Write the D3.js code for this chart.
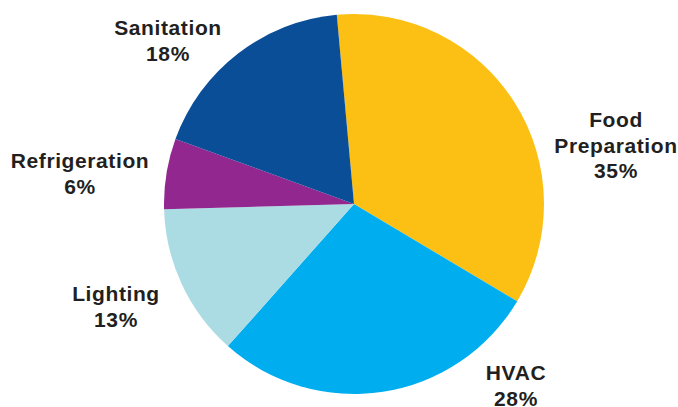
<!DOCTYPE html>
<html>
<head>
<meta charset="utf-8">
<script src="https://cdn.jsdelivr.net/npm/d3@7/dist/d3.min.js"></script>
<style>
  body { margin: 0; background: #fff; }
  svg { display: block; }
  .lbl { font-family: "Liberation Sans", Arial, sans-serif; font-weight: bold; font-size: 21px; letter-spacing: 0.6px; fill: #231f20; }
</style>
</head>
<body>
<div id="chart"></div>
<script>
// Data
const categories = ["Food Preparation", "HVAC", "Lighting", "Refrigeration", "Sanitation"];
const shares = [35, 28, 13, 6, 18];
const colors = ["#fcc015", "#00aeef", "#acdce3", "#92278f", "#0b4e98"];
// label text lines per slice
const labelLines = [["Food", "Preparation"], ["HVAC"], ["Lighting"], ["Refrigeration"], ["Sanitation"]];

// Layout
const W = 678, H = 407;
const cx = 354, cy = 204, radius = 190;
const startAngle = -5.2 * Math.PI / 180;
// label anchor (centre x, first baseline y) in page space
const labelAnchor = [[616, 127], [516, 380], [116, 301], [80, 168], [168, 35]];
const lineH = 25.5;

const svg = d3.select("#chart").append("svg")
    .attr("width", W)
    .attr("height", H);

const g = svg.append("g")
    .attr("transform", `translate(${cx},${cy})`);

const pie = d3.pie()
    .sort(null)
    .value(d => d)
    .startAngle(startAngle)
    .endAngle(startAngle + 2 * Math.PI);

const arc = d3.arc()
    .innerRadius(0)
    .outerRadius(radius);

g.selectAll("path")
    .data(pie(shares))
    .enter()
    .append("path")
    .attr("d", arc)
    .attr("fill", (d, i) => colors[i]);

// Labels
categories.forEach((c, i) => {
    const lines = labelLines[i].concat([shares[i] + "%"]);
    const t = svg.append("text")
        .attr("class", "lbl")
        .attr("text-anchor", "middle")
        .attr("x", labelAnchor[i][0])
        .attr("y", labelAnchor[i][1]);
    lines.forEach((s, k) => {
        t.append("tspan")
            .attr("x", labelAnchor[i][0])
            .attr("dy", k === 0 ? 0 : lineH)
            .text(s);
    });
});
</script>
</body>
</html>
